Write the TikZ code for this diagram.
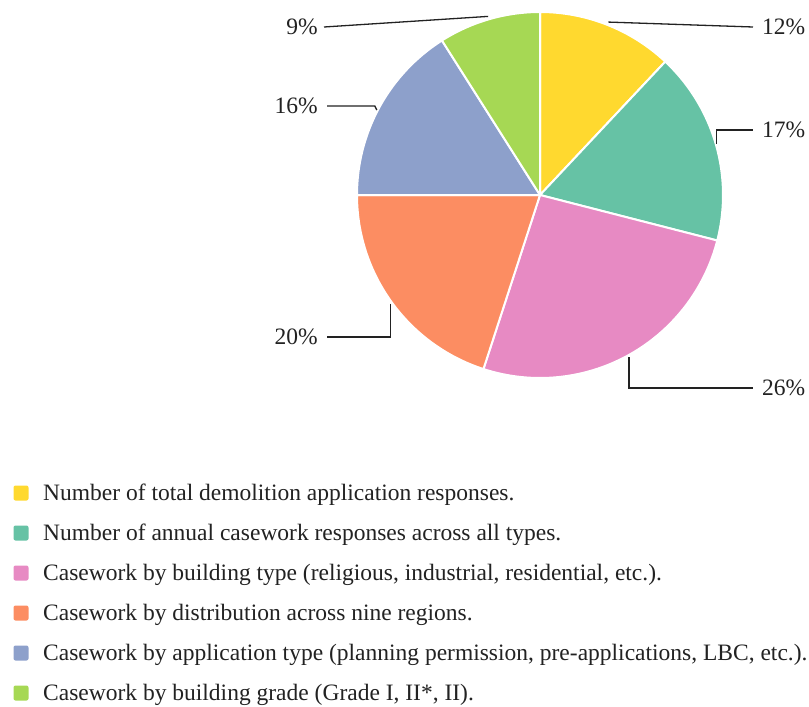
\documentclass[tikz,border=0pt]{standalone}
\usepackage{fontspec}
\usetikzlibrary{calc}
\setmainfont{Liberation Serif}
\definecolor{cyellow}{HTML}{FFD92F}
\definecolor{cgreen}{HTML}{66C2A5}
\definecolor{cpink}{HTML}{E78AC3}
\definecolor{corange}{HTML}{FC8D62}
\definecolor{cblue}{HTML}{8DA0CB}
\definecolor{clime}{HTML}{A6D854}
\definecolor{ink}{HTML}{222222}
\begin{document}
\begin{tikzpicture}[x=1pt,y=1pt,
  every node/.style={font=\fontsize{23.5}{28}\selectfont, text=ink, inner sep=0pt},
  slice/.style={draw=white, line width=2pt, line join=round},
  leader/.style={draw=ink, line width=1.3pt},
  key/.style={minimum size=15pt, rounded corners=2pt, draw=none},
  keytext/.style={anchor=base west}]
\useasboundingbox (0,0) rectangle (809,-707);
\coordinate (c) at (540,-195);
\def\R{183}
% pie slices, clockwise from the top
\fill[cyellow, slice] (c) -- ++(90:\R) arc[start angle=90, end angle=46.8, radius=\R] -- cycle;
\fill[cgreen, slice] (c) -- ++(46.8:\R) arc[start angle=46.8, end angle=-14.4, radius=\R] -- cycle;
\fill[cpink, slice] (c) -- ++(-14.4:\R) arc[start angle=-14.4, end angle=-108, radius=\R] -- cycle;
\fill[corange, slice] (c) -- ++(-108:\R) arc[start angle=-108, end angle=-180, radius=\R] -- cycle;
\fill[cblue, slice] (c) -- ++(180:\R) arc[start angle=180, end angle=122.4, radius=\R] -- cycle;
\fill[clime, slice] (c) -- ++(122.4:\R) arc[start angle=122.4, end angle=90, radius=\R] -- cycle;
% percentage labels
\node[anchor=west] (p12) at (762,-27) {12\%};
\node[anchor=west] (p17) at (762,-130) {17\%};
\node[anchor=west] (p26) at (762,-388) {26\%};
\node[anchor=east] (p20) at (318,-337) {20\%};
\node[anchor=east] (p16) at (318,-106) {16\%};
\node[anchor=east] (p9) at (318,-27) {9\%};
% leader line ends on the pie rim
\coordinate (e12) at ($(c)+(68.4:186)$);
\coordinate (e17) at ($(c)+(16.2:184)$);
\coordinate (e26) at ($(c)+(-61.2:185)$);
\coordinate (e20) at ($(c)+(-144:185)$);
\coordinate (e16) at ($(c)+(152.5:184)$);
\coordinate (e9) at ($(c)+(106.2:186)$);
\draw[leader] (e12) -- ([xshift=-9pt]p12.west);
\draw[leader] (e17) -- (e17 |- p17.west) -- ([xshift=-9pt]p17.west);
\draw[leader] (e26) -- (e26 |- p26.west) -- ([xshift=-9pt]p26.west);
\draw[leader] (e20) -- (e20 |- p20.east) -- ([xshift=9pt]p20.east);
\draw[leader] (e16) -- ([xshift=-2pt]e16 |- p16.east) -- ([xshift=9pt]p16.east);
\draw[leader] (e9) -- ([xshift=6pt]p9.east);
% legend
\node[key, fill=cyellow] (k1) at (21,-493) {};
\node[key, fill=cgreen] (k2) at (21,-533) {};
\node[key, fill=cpink] (k3) at (21,-573) {};
\node[key, fill=corange] (k4) at (21,-613) {};
\node[key, fill=cblue] (k5) at (21,-653) {};
\node[key, fill=clime] (k6) at (21,-693) {};
\node[keytext] (t1) at (43,-500) {Number of total demolition application responses.};
\node[keytext] (t2) at (43,-540) {Number of annual casework responses across all types.};
\node[keytext] (t3) at (43,-580) {Casework by building type (religious, industrial, residential, etc.).};
\node[keytext] (t4) at (43,-620) {Casework by distribution across nine regions.};
\node[keytext] (t5) at (43,-660) {Casework by application type (planning permission, pre-applications, LBC, etc.).};
\node[keytext] (t6) at (43,-700) {Casework by building grade (Grade I, II*, II).};
\end{tikzpicture}
\end{document}
